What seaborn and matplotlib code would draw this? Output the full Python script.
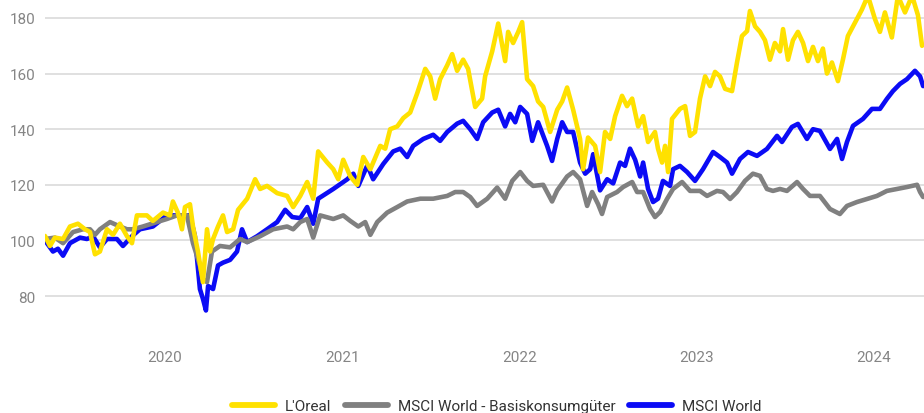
import numpy as np
import pandas as pd
import matplotlib
matplotlib.use("Agg")
import matplotlib.pyplot as plt
import seaborn as sns
from matplotlib.lines import Line2D

# ---------------- data (dates as decimal years, values indexed to 100) ----------------
series_names = ["L'Oreal", "MSCI World - Basiskonsumgüter", "MSCI World"]
series_colors = ["#ffe100", "#808080", "#0b0bf5"]

loreal_t = [2019.323, 2019.351, 2019.379, 2019.425, 2019.464, 2019.509, 2019.549, 2019.577, 2019.605, 2019.633,
            2019.673, 2019.707, 2019.746, 2019.786, 2019.814, 2019.842, 2019.898, 2019.932, 2019.989, 2020.028,
            2020.045, 2020.073, 2020.096, 2020.113, 2020.141, 2020.158, 2020.186, 2020.214, 2020.237, 2020.254,
            2020.271, 2020.299, 2020.327, 2020.350, 2020.384, 2020.412, 2020.463, 2020.508, 2020.536, 2020.575,
            2020.632, 2020.688, 2020.722, 2020.762, 2020.801, 2020.835, 2020.863, 2020.914, 2020.948, 2020.976,
            2021.004, 2021.044, 2021.083, 2021.117, 2021.157, 2021.213, 2021.241, 2021.269, 2021.309, 2021.343,
            2021.382, 2021.422, 2021.467, 2021.495, 2021.523, 2021.551, 2021.591, 2021.619, 2021.647, 2021.681,
            2021.709, 2021.749, 2021.788, 2021.805, 2021.845, 2021.879, 2021.918, 2021.935, 2021.963, 2021.992,
            2022.014, 2022.042, 2022.076, 2022.104, 2022.133, 2022.172, 2022.212, 2022.240, 2022.268, 2022.302,
            2022.341, 2022.358, 2022.386, 2022.426, 2022.454, 2022.482, 2022.511, 2022.539, 2022.578, 2022.606,
            2022.635, 2022.669, 2022.697, 2022.725, 2022.764, 2022.781, 2022.804, 2022.821, 2022.838, 2022.860,
            2022.905, 2022.934, 2022.962, 2022.990, 2023.018, 2023.047, 2023.075, 2023.103, 2023.131, 2023.160,
            2023.199, 2023.227, 2023.255, 2023.284, 2023.300, 2023.329, 2023.357, 2023.385, 2023.413, 2023.441,
            2023.470, 2023.487, 2023.515, 2023.543, 2023.571, 2023.600, 2023.628, 2023.656, 2023.684, 2023.712,
            2023.735, 2023.763, 2023.797, 2023.825, 2023.853, 2023.882, 2023.932, 2023.966, 2024.006, 2024.034,
            2024.062, 2024.101, 2024.135, 2024.175, 2024.215, 2024.248, 2024.271]
loreal_v = [101.6, 98, 101, 100.5, 105, 106, 104, 103, 95, 96,
            104, 102, 106, 101.5, 99, 109, 109, 107, 110, 109,
            114, 110, 104, 112, 113, 105, 96, 85, 104, 96,
            100.5, 105, 109, 103, 104, 111, 115, 122, 118.5, 119.6,
            117, 116, 112, 116, 121, 115, 132, 128, 125.6, 122,
            129, 123, 120, 130, 125.6, 134, 133, 140, 141, 144,
            146, 153, 161.7, 159, 151, 158, 163, 167, 161, 165,
            161.7, 148, 151, 159, 168, 178, 164.5, 175, 171, 175,
            178.5, 158, 155.5, 150, 148, 139, 147, 150, 155, 147,
            136.5, 125.6, 137, 134, 124.6, 139, 136.5, 144.7, 152, 148.3,
            151, 141, 144.7, 135.4, 139, 133, 128, 134, 124.6, 143.7,
            147.3, 148.3, 137.6, 139, 151, 159, 155.5, 160.6, 159, 154.5,
            153.7, 164, 173.5, 175.3, 182.5, 177, 175, 172, 165, 171,
            168, 176, 165, 172, 175, 171, 164.5, 169.6, 164.5, 169,
            160, 164, 157.3, 165, 173.5, 177, 183, 188, 179.6, 175,
            182, 173, 188, 182, 188, 181, 170]

world_t = [2019.323, 2019.368, 2019.396, 2019.425, 2019.464, 2019.521, 2019.560, 2019.594, 2019.633, 2019.673,
           2019.729, 2019.763, 2019.814, 2019.859, 2019.932, 2020.011, 2020.085, 2020.141, 2020.169, 2020.197,
           2020.214, 2020.231, 2020.243, 2020.271, 2020.299, 2020.327, 2020.367, 2020.406, 2020.434, 2020.463,
           2020.519, 2020.575, 2020.632, 2020.677, 2020.717, 2020.762, 2020.801, 2020.835, 2020.863, 2020.948,
           2021.027, 2021.061, 2021.089, 2021.140, 2021.173, 2021.230, 2021.286, 2021.326, 2021.365, 2021.399,
           2021.456, 2021.512, 2021.551, 2021.591, 2021.647, 2021.681, 2021.721, 2021.760, 2021.794, 2021.845,
           2021.879, 2021.918, 2021.946, 2021.975, 2022.003, 2022.042, 2022.071, 2022.104, 2022.155, 2022.183,
           2022.212, 2022.240, 2022.268, 2022.302, 2022.341, 2022.370, 2022.398, 2022.415, 2022.454, 2022.494,
           2022.528, 2022.567, 2022.595, 2022.623, 2022.652, 2022.680, 2022.697, 2022.725, 2022.753, 2022.781,
           2022.809, 2022.849, 2022.866, 2022.905, 2022.945, 2022.990, 2023.035, 2023.092, 2023.131, 2023.171,
           2023.199, 2023.244, 2023.289, 2023.340, 2023.396, 2023.453, 2023.481, 2023.537, 2023.571, 2023.622,
           2023.656, 2023.695, 2023.752, 2023.792, 2023.820, 2023.848, 2023.882, 2023.938, 2023.989, 2024.034,
           2024.073, 2024.107, 2024.147, 2024.186, 2024.231, 2024.260, 2024.277]
world_v = [100, 96, 97, 94.5, 99, 101, 100.5, 101.5, 97.5, 100.5,
           100.5, 98, 101.5, 104, 105, 109, 109, 109, 101.5, 82.5,
           79, 74.8, 83.6, 82.5, 91, 92, 93, 96, 104, 99.4,
           101.5, 104, 106.6, 111, 108.4, 108, 112, 106, 115, 118.5,
           122, 124, 119.6, 127, 122, 127.5, 132, 133, 130, 134,
           136.5, 138, 135.8, 139, 142, 143, 140, 136.5, 142.5, 146,
           147, 141, 145.5, 142.5, 148, 145.5, 135.8, 142.5, 134, 128.6,
           136.5, 142.5, 139, 139, 128, 124, 125.6, 131, 118, 122,
           120.5, 128, 126.8, 133, 129, 123, 128, 118.5, 113.8, 115,
           121.4, 119.6, 125.6, 126.8, 124.6, 121.4, 125.6, 131.8, 130, 128,
           124, 129.3, 131.8, 130.4, 132.9, 137.6, 135.4, 140.8, 141.9, 136.5,
           140, 139.4, 132.9, 136.5, 129.3, 135.4, 141.2, 143.7, 147.3, 147.3,
           150.9, 153.7, 156.3, 158, 161, 159, 155.5]

staples_t = [2019.323, 2019.379, 2019.425, 2019.481, 2019.537, 2019.577, 2019.605, 2019.633, 2019.690, 2019.746,
             2019.786, 2019.819, 2019.876, 2019.955, 2020.011, 2020.068, 2020.124, 2020.158, 2020.197, 2020.214,
             2020.237, 2020.265, 2020.310, 2020.367, 2020.423, 2020.463, 2020.536, 2020.609, 2020.688, 2020.722,
             2020.762, 2020.801, 2020.835, 2020.874, 2020.948, 2021.004, 2021.044, 2021.089, 2021.128, 2021.157,
             2021.196, 2021.252, 2021.309, 2021.365, 2021.439, 2021.512, 2021.591, 2021.636, 2021.681, 2021.721,
             2021.760, 2021.817, 2021.873, 2021.918, 2021.958, 2022.003, 2022.042, 2022.076, 2022.133, 2022.183,
             2022.212, 2022.268, 2022.302, 2022.341, 2022.381, 2022.409, 2022.443, 2022.465, 2022.494, 2022.550,
             2022.584, 2022.635, 2022.663, 2022.697, 2022.736, 2022.764, 2022.793, 2022.832, 2022.866, 2022.917,
             2022.962, 2023.018, 2023.058, 2023.114, 2023.148, 2023.188, 2023.227, 2023.272, 2023.317, 2023.357,
             2023.396, 2023.430, 2023.470, 2023.509, 2023.566, 2023.600, 2023.639, 2023.695, 2023.752, 2023.808,
             2023.848, 2023.904, 2023.961, 2024.017, 2024.073, 2024.130, 2024.186, 2024.243, 2024.260, 2024.277]
staples_v = [100.5, 101, 99, 103, 104, 104, 102, 104, 106.6, 105,
             104, 104, 105, 106.6, 107.7, 109, 109, 99, 91, 86,
             85, 96, 98, 97.5, 100.5, 99.4, 101.5, 104, 105, 104,
             106.6, 107.7, 101, 109, 107.7, 109, 107, 105, 106.6, 102,
             106.6, 110, 112, 114, 115, 115, 116, 117.4, 117.4, 115.6,
             112.4, 115, 119, 115, 121.4, 124.6, 121.4, 119.6, 120, 114,
             118, 123, 124.6, 122, 112.4, 117.4, 113, 109.5, 115.6, 117.4,
             119.2, 121, 117.4, 117.4, 111.3, 108.4, 110.2, 114.9, 118.5, 121,
             117.8, 117.8, 116, 117.8, 117.4, 114.9, 117.4, 121.4, 124, 123.2,
             118.5, 117.8, 118.5, 117.8, 121, 118.5, 116, 116, 111.3, 109.5,
             112.4, 113.8, 114.9, 116, 117.8, 118.5, 119.2, 120, 117.4, 115.6]

year_ticks = [2020, 2021, 2022, 2023, 2024]
y_ticks = [80, 100, 120, 140, 160, 180]


def to_date(t):
    y = int(np.floor(t))
    start = pd.Timestamp(year=y, month=1, day=1)
    end = pd.Timestamp(year=y + 1, month=1, day=1)
    return start + (end - start) * (t - y)


frames = []
for name, ts, vs in [(series_names[2], world_t, world_v),
                     (series_names[1], staples_t, staples_v),
                     (series_names[0], loreal_t, loreal_v)]:
    frames.append(pd.DataFrame({"date": [to_date(t) for t in ts], "value": vs, "series": name}))
df = pd.concat(frames, ignore_index=True)

# ---------------- plot ----------------
sns.set_theme(style="white")
plt.rcParams["font.family"] = ["Roboto", "DejaVu Sans"]

W, H = 924, 414
fig = plt.figure(figsize=(W / 100, H / 100), dpi=100)
ax = fig.add_axes([45 / W, (H - 325) / H, 1 - 45 / W, 325 / H])

palette = dict(zip(series_names, series_colors))
sns.lineplot(data=df, x="date", y="value", hue="series",
             hue_order=[series_names[2], series_names[1], series_names[0]],
             palette=palette, linewidth=3.3, estimator=None, sort=False,
             legend=False, ax=ax)
for ln in ax.get_lines():
    ln.set_solid_joinstyle("round")
    ln.set_solid_capstyle("round")

ax.set_xlim(to_date(2019.323), to_date(2024.282))
ax.set_ylim(69.93, 186.83)
ax.set_yticks(y_ticks)
ax.set_yticklabels([str(v) for v in y_ticks])
ax.set_xticks([pd.Timestamp(year=y, month=1, day=1) for y in year_ticks])
ax.set_xticklabels([str(y) for y in year_ticks])
ax.set_xlabel("")
ax.set_ylabel("")

ax.yaxis.grid(True, color="#dddddd", linewidth=1.3)
ax.xaxis.grid(False)
ax.set_axisbelow(True)
for s in ax.spines.values():
    s.set_visible(False)

ax.tick_params(axis="y", length=0, pad=7, labelsize=11, labelcolor="#858585")
ax.tick_params(axis="x", length=5, width=1.6, color="#d3d3d3", pad=14,
               labelsize=11, labelcolor="#858585")

handles = [Line2D([0], [0], color=c, linewidth=4.2) for c in series_colors]
fig.legend(handles, series_names, loc="center", bbox_to_anchor=(497 / W, 1 - 407 / H),
           ncol=3, frameon=False, fontsize=11, handlelength=2.8, handletextpad=0.65,
           columnspacing=0.9, labelcolor="#333333")

fig.savefig("out.png", dpi=100)
